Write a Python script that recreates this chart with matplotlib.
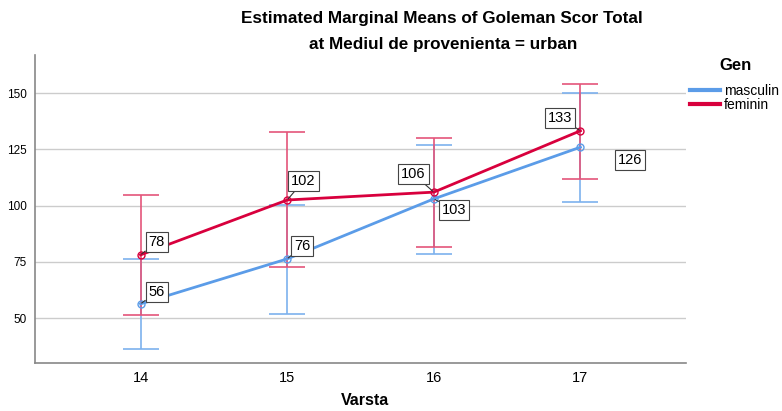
import matplotlib
matplotlib.use("Agg")
import matplotlib.pyplot as plt
from matplotlib.lines import Line2D

plt.rcParams['font.family'] = ['Liberation Sans', 'DejaVu Sans']

ages = [14, 15, 16, 17]
masc_mean = [56.3, 76.3, 103.0, 126.0]
masc_lo = [36.4, 51.6, 78.3, 101.7]
masc_hi = [76.1, 100.4, 127.0, 150.0]
fem_mean = [78.1, 102.5, 106.0, 133.3]
fem_lo = [51.3, 72.8, 81.7, 111.8]
fem_hi = [104.8, 132.7, 130.3, 154.0]
masc_labels = ["56", "76", "103", "126"]
fem_labels = ["78", "102", "106", "133"]
yticks = [50, 75, 100, 125, 150]

blue = "#5B9CE8"
red = "#D8003D"
blue_err = "#7DB1EE"
red_err = "#E4557A"

fig = plt.figure(figsize=(7.82, 4.11), dpi=100)
ax = fig.add_axes([35/782, 1-363/411, (686-35)/782, (363-55)/411])

for mean, lo, hi, ce in [(masc_mean, masc_lo, masc_hi, blue_err), (fem_mean, fem_lo, fem_hi, red_err)]:
    yerr = [[m - l for m, l in zip(mean, lo)], [h - m for m, h in zip(mean, hi)]]
    ax.errorbar(ages, mean, yerr=yerr, fmt="none", ecolor=ce, elinewidth=1.2,
                capsize=13, capthick=1.2, zorder=2)

ax.plot(ages, masc_mean, color=blue, lw=2.0, marker="o", mfc="none", ms=5, mew=1, zorder=3)
ax.plot(ages, fem_mean, color=red, lw=2.0, marker="o", mfc="none", ms=5, mew=1, zorder=4)

bbox = dict(boxstyle="square,pad=0.2", fc="white", ec="#444444", lw=0.8)
arrow = dict(arrowstyle="-", color="#333333", lw=0.8, shrinkA=0, shrinkB=1)
# (dx px, dy px, ha, va, arrow)
fem_off = [(8, 6, "left", "bottom", True), (4, 12, "left", "bottom", True),
           (-8, 11, "right", "bottom", True), (-8, 6, "right", "bottom", True)]
masc_off = [(8, 5, "left", "bottom", True), (7, 6, "left", "bottom", True),
            (8, -4, "left", "top", True), (37, -6, "left", "top", False)]
for means, labels, offs in [(fem_mean, fem_labels, fem_off), (masc_mean, masc_labels, masc_off)]:
    for x, y, t, (dx, dy, ha, va, arr) in zip(ages, means, labels, offs):
        ax.annotate(t, (x, y), xytext=(dx, dy), textcoords="offset pixels", fontsize=10.5,
                    bbox=bbox, arrowprops=arrow if arr else None, ha=ha, va=va, zorder=6)

ax.set_xlim(13.28, 17.72)
ax.set_ylim(30, 167)
ax.set_xticks(ages)
ax.set_xticklabels([str(a) for a in ages], fontsize=10.5)
ax.set_yticks(yticks)
ax.set_yticklabels([str(v) for v in yticks], fontsize=8.5)
ax.tick_params(length=0, pad=6)
ax.tick_params(axis="x", pad=6)
ax.grid(axis="y", color="#cccccc", lw=1)
ax.set_axisbelow(True)
for s in ["top", "right"]:
    ax.spines[s].set_visible(False)
for s in ["left", "bottom"]:
    ax.spines[s].set_color("#888888")
    ax.spines[s].set_linewidth(1.2)

fig.text(365/782, 1-400/411, "Varsta", ha="center", va="center", fontsize=11.5, fontweight="bold")

fig.text(442/782, 1-19/411, "Estimated Marginal Means of Goleman Scor Total", ha="center", va="center",
         fontsize=12.3, fontweight="bold")
fig.text(443/782, 1-45/411, "at Mediul de provenienta = urban", ha="center", va="center",
         fontsize=12.3, fontweight="bold")

fig.text(736/782, 1-66/411, "Gen", ha="center", va="center", fontsize=12, fontweight="bold")
handles = [Line2D([], [], color=blue, lw=3), Line2D([], [], color=red, lw=3)]
leg = fig.legend(handles, ["masculin", "feminin"], loc="upper left",
                 bbox_to_anchor=(684/782, 1-78/411), frameon=False, fontsize=10,
                 handlelength=2.2, handletextpad=0.3, labelspacing=0.05, borderaxespad=0)

fig.savefig("out.png", dpi=100)
